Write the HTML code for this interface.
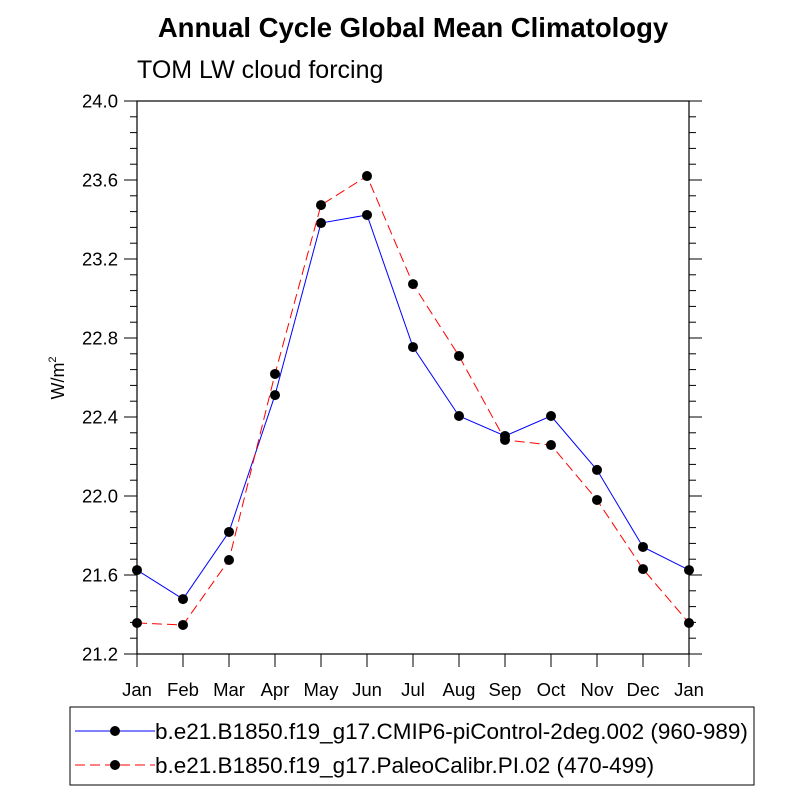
<!DOCTYPE html>
<html><head><meta charset="utf-8"><style>body{margin:0;background:#fff}svg{font-family:"Liberation Sans",sans-serif}</style></head>
<body>
<svg id="c" width="800" height="800">
<text x="413" y="37" text-anchor="middle" font-size="27.5" font-weight="bold">Annual Cycle Global Mean Climatology</text>
<text x="137" y="78" font-size="25">TOM LW cloud forcing</text>
<text transform="translate(64,378) rotate(-90)" text-anchor="middle" font-size="18">W/m<tspan dy="-8" font-size="11">2</tspan></text>
<rect x="137" y="101" width="552" height="553" fill="none" stroke="#000" stroke-width="1.2"/>
<g id="ax"></g><g id="series"></g>
<rect x="70" y="707" width="684" height="78" fill="none" stroke="#000" stroke-width="1"/>
<g>
<line x1="75" y1="731" x2="155" y2="731" stroke="#00f" stroke-width="1"/>
<circle cx="115" cy="731" r="5" fill="#000"/>
<text x="155" y="739" font-size="22.5">b.e21.B1850.f19_g17.CMIP6-piControl-2deg.002 (960-989)</text></g>
<g>
<line x1="75" y1="765" x2="155" y2="765" stroke="#f00" stroke-width="1" stroke-dasharray="10,5"/>
<circle cx="115" cy="765" r="5" fill="#000"/>
<text x="155" y="773" font-size="22.5">b.e21.B1850.f19_g17.PaleoCalibr.PI.02 (470-499)</text></g>
</svg>
<script>
const months=["Jan","Feb","Mar","Apr","May","Jun","Jul","Aug","Sep","Oct","Nov","Dec","Jan"];
const controlVals=[21.625,21.478,21.818,22.511,23.382,23.423,22.754,22.405,22.304,22.405,22.132,21.742,21.625];
const paleoVals=[21.357,21.347,21.676,22.618,23.473,23.620,23.073,22.709,22.284,22.258,21.980,21.630,21.357];
const yTicks=["21.2","21.6","22.0","22.4","22.8","23.2","23.6","24.0"];
const NS="http://www.w3.org/2000/svg";
const x0=137,x1=689,y0=654,y1=101,ymin=21.2,ymax=24.0;
const xs=i=>x0+i*(x1-x0)/(months.length-1);
const ys=v=>y0-(v-ymin)/(ymax-ymin)*(y0-y1);
function mk(t,a,p){const e=document.createElementNS(NS,t);for(const k in a)e.setAttribute(k,a[k]);p.appendChild(e);return e;}
const ax=document.getElementById('ax');
for(let k=0;k<=35;k++){const v=ymin+k*0.08,y=ys(v),L=k%5===0?13:7;
 let t=mk('line',{x1:x0-L,y1:y,x2:x0,y2:y,stroke:'#000'},ax);
 
 
 let r=mk('line',{x1:x1,y1:y,x2:x1+L,y2:y,stroke:'#000'},ax);
 
 }
yTicks.forEach(s=>{const t=mk('text',{x:x0-19,y:ys(+s)+6.5,'text-anchor':'end','font-size':'18.5'},ax);t.textContent=s;
 
 });
months.forEach((m,i)=>{const x=xs(i);
 let t=mk('line',{x1:x,y1:y0,x2:x,y2:y0+13,stroke:'#000'},ax);
 
 
 let l=mk('text',{x:x,y:y0+42,'text-anchor':'middle','font-size':'18.5'},ax);l.textContent=m;
 
 });
const sg=document.getElementById('series');
function draw(vals,col,dash,name){
 const p=mk('polyline',{points:vals.map((v,i)=>xs(i)+','+ys(v)).join(' '),fill:'none',stroke:col,'stroke-width':1,'stroke-dasharray':dash},sg);
 
 
 vals.forEach((v,i)=>{const c=mk('circle',{cx:xs(i),cy:ys(v),r:5,fill:'#000'},sg);
  
  });
}
draw(controlVals,'#00f','none','control');
draw(paleoVals,'#f00','10,5','paleo');
</script>
</body></html>
